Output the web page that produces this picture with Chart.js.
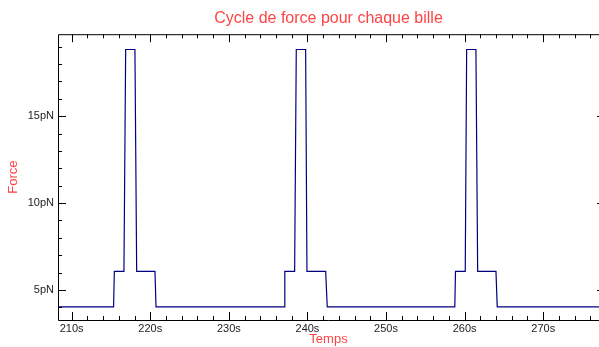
<!DOCTYPE html>
<html>
<head>
<meta charset="utf-8">
<script src="https://cdn.jsdelivr.net/npm/chart.js@4/dist/chart.umd.min.js"></script>
<style>
    html, body { margin: 0; padding: 0; background: #fff; }
    #wrap { width: 599px; height: 347px; }
</style>
</head>
<body>
<div id="wrap"><canvas id="forceChart" width="599" height="347"></canvas></div>
<script>
// Temps (s) et force (pN)
const times = [
    208.26,
    215.33, 215.43, 216.65, 216.87, 218.05, 218.27, 220.60, 220.73,
    237.03, 237.12, 238.37, 238.58, 239.77, 239.94, 242.32, 242.52,
    258.75, 258.84, 260.08, 260.26, 261.44, 261.66, 263.99, 264.15,
    277.10
];
const forces = [
    4.03,
    4.03, 6.07, 6.07, 18.83, 18.83, 6.07, 6.07, 4.03,
    4.03, 6.07, 6.07, 18.83, 18.83, 6.07, 6.07, 4.03,
    4.03, 6.07, 6.07, 18.83, 18.83, 6.07, 6.07, 4.03,
    4.03
];
const xTicks = [210, 220, 230, 240, 250, 260, 270];
const yTicks = [5, 10, 15];
const xMinorStep = 2;
const yMinorStep = 1;

const labelRed = '#ff4444';

// ticks pointing inward, on all four sides
const innerTicks = {
    id: 'innerTicks',
    afterDraw(chart) {
        const { ctx, chartArea: ca, scales } = chart;
        const xs = scales.x, ys = scales.y;
        const major = 8, minor = 4;
        const rightAxis = ca.right + 6;
        ctx.save();
        ctx.strokeStyle = '#000';
        ctx.lineWidth = 1;

        ctx.beginPath();
        ctx.moveTo(ca.left + 0.5, ca.top + 0.5);
        ctx.lineTo(ca.left + 0.5, ca.bottom + 0.5);
        ctx.lineTo(ca.right, ca.bottom + 0.5);
        ctx.moveTo(ca.left + 0.5, ca.top + 0.5);
        ctx.lineTo(ca.right, ca.top + 0.5);
        ctx.stroke();

        ctx.beginPath();
        for (let v = Math.ceil(xs.min / xMinorStep) * xMinorStep; v <= xs.max; v += xMinorStep) {
            const px = Math.round(xs.getPixelForValue(v)) + 0.5;
            const len = xTicks.includes(v) ? major : minor;
            ctx.moveTo(px, ca.bottom);
            ctx.lineTo(px, ca.bottom - len);
            ctx.moveTo(px, ca.top);
            ctx.lineTo(px, ca.top + len);
        }
        for (let v = Math.ceil(ys.min / yMinorStep) * yMinorStep; v <= ys.max; v += yMinorStep) {
            const py = Math.round(ys.getPixelForValue(v)) + 0.5;
            const len = yTicks.includes(v) ? major : minor;
            ctx.moveTo(ca.left, py);
            ctx.lineTo(ca.left + len, py);
            ctx.moveTo(rightAxis, py);
            ctx.lineTo(rightAxis - len, py);
        }
        ctx.stroke();
        ctx.restore();
    }
};

const ctx = document.getElementById('forceChart').getContext('2d');
Chart.defaults.font.family = "'Liberation Sans', Arial, sans-serif";

new Chart(ctx, {
    type: 'line',
    data: {
        datasets: [{
            label: 'Force',
            data: times.map((t, i) => ({ x: t, y: forces[i] })),
            borderColor: '#000080',
            borderWidth: 1.2,
            pointRadius: 0,
            tension: 0,
            fill: false
        }]
    },
    options: {
        responsive: false,
        animation: false,
        layout: { padding: 0 },
        plugins: {
            legend: { display: false },
            tooltip: { enabled: false },
            title: {
                display: true,
                fullSize: false,
                text: 'Cycle de force pour chaque bille',
                color: labelRed,
                font: { size: 16, weight: 'normal' },
                padding: { top: 9, bottom: 6 }
            }
        },
        scales: {
            x: {
                type: 'linear',
                min: 208.26,
                max: 277.1,
                afterBuildTicks: (scale) => { scale.ticks = xTicks.map(v => ({ value: v })); },
                afterFit: (scale) => { scale.height = 27; },
                grid: { display: false, drawTicks: false },
                border: { display: false },
                ticks: {
                    color: '#222',
                    font: { size: 11 },
                    padding: 2,
                    maxRotation: 0,
                    callback: (v) => v + 's'
                },
                title: {
                    display: true,
                    text: 'Temps',
                    color: labelRed,
                    font: { size: 13 },
                    padding: { top: 0, bottom: 0 }
                }
            },
            y: {
                type: 'linear',
                min: 3.276,
                max: 19.71,
                afterBuildTicks: (scale) => { scale.ticks = yTicks.map(v => ({ value: v })); },
                afterFit: (scale) => { scale.width = 58; },
                grid: { display: false, drawTicks: false },
                border: { display: false },
                ticks: {
                    color: '#222',
                    font: { size: 11 },
                    padding: 4,
                    callback: (v) => v + 'pN'
                },
                title: {
                    display: true,
                    text: 'Force',
                    color: labelRed,
                    font: { size: 13 },
                    padding: { top: 6, bottom: 0 }
                }
            }
        }
    },
    plugins: [innerTicks]
});
</script>
</body>
</html>
